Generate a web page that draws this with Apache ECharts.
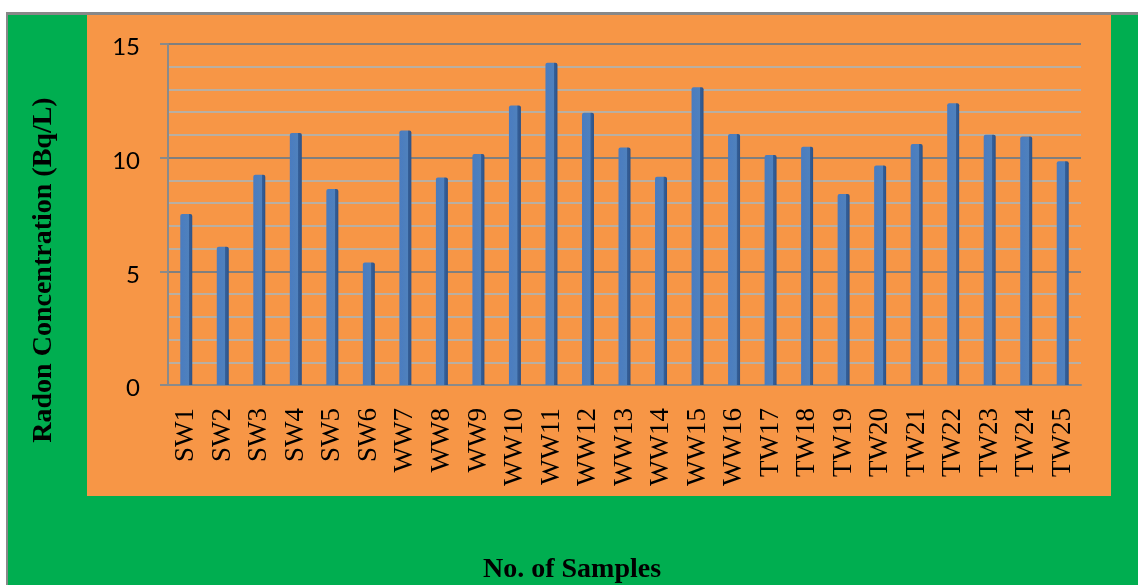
<!DOCTYPE html>
<html>
<head>
<meta charset="utf-8">
<script src="https://cdn.jsdelivr.net/npm/echarts@6/dist/echarts.min.js"></script>
<style>
html,body{margin:0;padding:0;background:#fff;}
#chart{width:1138px;height:585px;}
</style>
</head>
<body>
<div id="chart"></div>
<script>
const categories = ['SW1','SW2','SW3','SW4','SW5','SW6','WW7','WW8','WW9','WW10','WW11','WW12','WW13','WW14','WW15','WW16','TW17','TW18','TW19','TW20','TW21','TW22','TW23','TW24','TW25'];
const radonValues = [7.52,6.08,9.25,11.09,8.62,5.39,11.19,9.13,10.16,12.29,14.17,11.98,10.45,9.16,13.10,11.04,10.12,10.48,8.40,9.65,10.60,12.39,11.01,10.93,9.84];
const yTicks = [0,5,10,15];
const yTitle = 'Radon Concentration (Bq/L)';
const xTitle = 'No. of Samples';

const chart = echarts.init(document.getElementById('chart'), null, {renderer:'canvas'});
chart.setOption({
  animation:false,
  backgroundColor:'#ffffff',
  graphic:[
    {type:'rect', z:-10, shape:{x:6,y:12,width:1140,height:580}, style:{fill:'#888888'}},
    {type:'rect', z:-9, shape:{x:8,y:15,width:1140,height:580}, style:{fill:'#00ae50'}},
    {type:'rect', z:-8, shape:{x:87,y:15,width:1024,height:481}, style:{fill:'#f79646'}},
    {type:'text', z:10, x:44, y:270, rotation:Math.PI/2,
      style:{text:yTitle, font:'bold 28px "Liberation Serif"', fill:'#000', textAlign:'center', textVerticalAlign:'middle'}},
    {type:'text', z:10, x:572, y:570,
      style:{text:xTitle, font:'bold 28px "Liberation Serif"', fill:'#000', textAlign:'center', textVerticalAlign:'middle'}}
  ],
  grid:{left:168, right:57, top:44, bottom:200, containLabel:false},
  xAxis:{
    type:'category',
    data:categories,
    axisLine:{show:true, lineStyle:{color:'#8a8a8a', width:2}},
    axisTick:{show:false},
    axisLabel:{rotate:90, margin:23, fontFamily:'"Liberation Serif"', fontSize:27, color:'#000', interval:0}
  },
  yAxis:{
    type:'value',
    min:yTicks[0], max:yTicks[yTicks.length-1], interval:5,
    axisLine:{show:true, lineStyle:{color:'#8a8a8a', width:2}},
    axisTick:{show:true, length:8, lineStyle:{color:'#8a8a8a', width:2}},
    axisLabel:{margin:28, color:'#000',
      formatter:function(v){ return '{v|' + v + '}'; },
      rich:{v:{fontFamily:'Lato', fontSize:24, color:'#000', padding:[7,0,0,0]}}
    },
    splitLine:{show:true, lineStyle:{color:'#7f7f7f', width:2}},
    minorTick:{show:false, splitNumber:5},
    minorSplitLine:{show:true, lineStyle:{color:'#b8afa3', width:2}}
  },
  series:[{
    type:'bar',
    data:radonValues,
    barWidth:12,
    itemStyle:{
      color:new echarts.graphic.LinearGradient(0,0,1,0,[
        {offset:0, color:'#4a7cc0'},
        {offset:0.7, color:'#4f81bd'},
        {offset:0.72, color:'#35609a'},
        {offset:1, color:'#2d5287'}
      ]),
      borderRadius:[2,2,0,0]
    }
  }]
});
</script>
</body>
</html>
